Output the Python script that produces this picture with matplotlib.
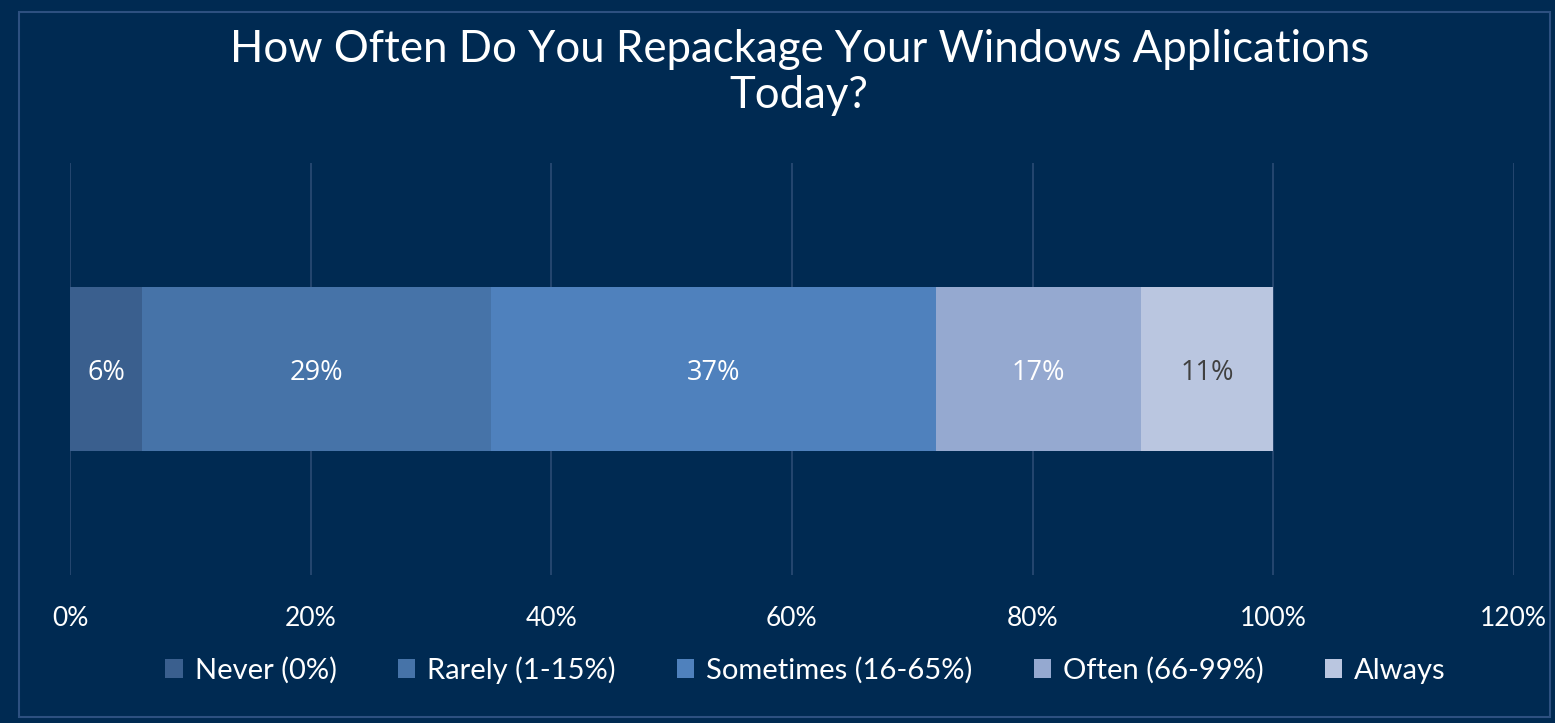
import matplotlib
matplotlib.use("Agg")
import matplotlib.pyplot as plt
from matplotlib.patches import Rectangle

# data
categories = ["Never (0%)", "Rarely (1-15%)", "Sometimes (16-65%)", "Often (66-99%)", "Always"]
values = [6, 29, 37, 17, 11]
colors = ["#3A5F8E", "#4673A8", "#4F81BD", "#95A9D0", "#BAC6E0"]
label_colors = ["white", "white", "white", "white", "#404040"]
xticks = [0, 20, 40, 60, 80, 100, 120]

bg = "#002A52"
plt.rcParams['font.family'] = ['Lato', 'DejaVu Sans']

fig = plt.figure(figsize=(15.55, 7.23), dpi=100, facecolor=bg)
ax = fig.add_axes([0.045, 0.2047, 0.9285, 0.57])
ax.set_facecolor(bg)

left = 0
for name, v, c, lc in zip(categories, values, colors, label_colors):
    ax.barh(0, v, left=left, height=0.4, color=c, label=name, zorder=3)
    ax.text(left + v / 2, -0.01, str(v) + "%", ha="center", va="center",
            color=lc, fontsize=19.5, family=['Open Sans', 'DejaVu Sans'], zorder=4)
    left += v

ax.set_xlim(0, 120)
ax.set_ylim(-0.5, 0.5)
ax.set_xticks(xticks)
ax.set_xticklabels([str(t) + "%" for t in xticks], color="white", fontsize=19)
ax.set_yticks([])
ax.tick_params(axis="x", length=0, pad=22)
ax.grid(axis="x", color="#2B4B74", linewidth=1.2, zorder=0)
for s in ax.spines.values():
    s.set_visible(False)

fig.text(0.514, 0.9, "How Often Do You Repackage Your Windows Applications\nToday?",
         ha="center", va="center", color="white", fontsize=31.5,
         linespacing=1.15)

leg = fig.legend(loc="center", bbox_to_anchor=(0.518, 0.073), ncol=5, frameon=False,
                 handlelength=0.6, handleheight=0.6, handletextpad=0.4,
                 columnspacing=2.1, labelcolor="white", prop={'size': 21})

fig.patches.append(Rectangle((19 / 1555, 6 / 723), 1531 / 1555, 705 / 723,
                             transform=fig.transFigure, fill=False,
                             edgecolor="#2D5080", linewidth=1.5))

fig.savefig("out.png", dpi=100, facecolor=bg)
